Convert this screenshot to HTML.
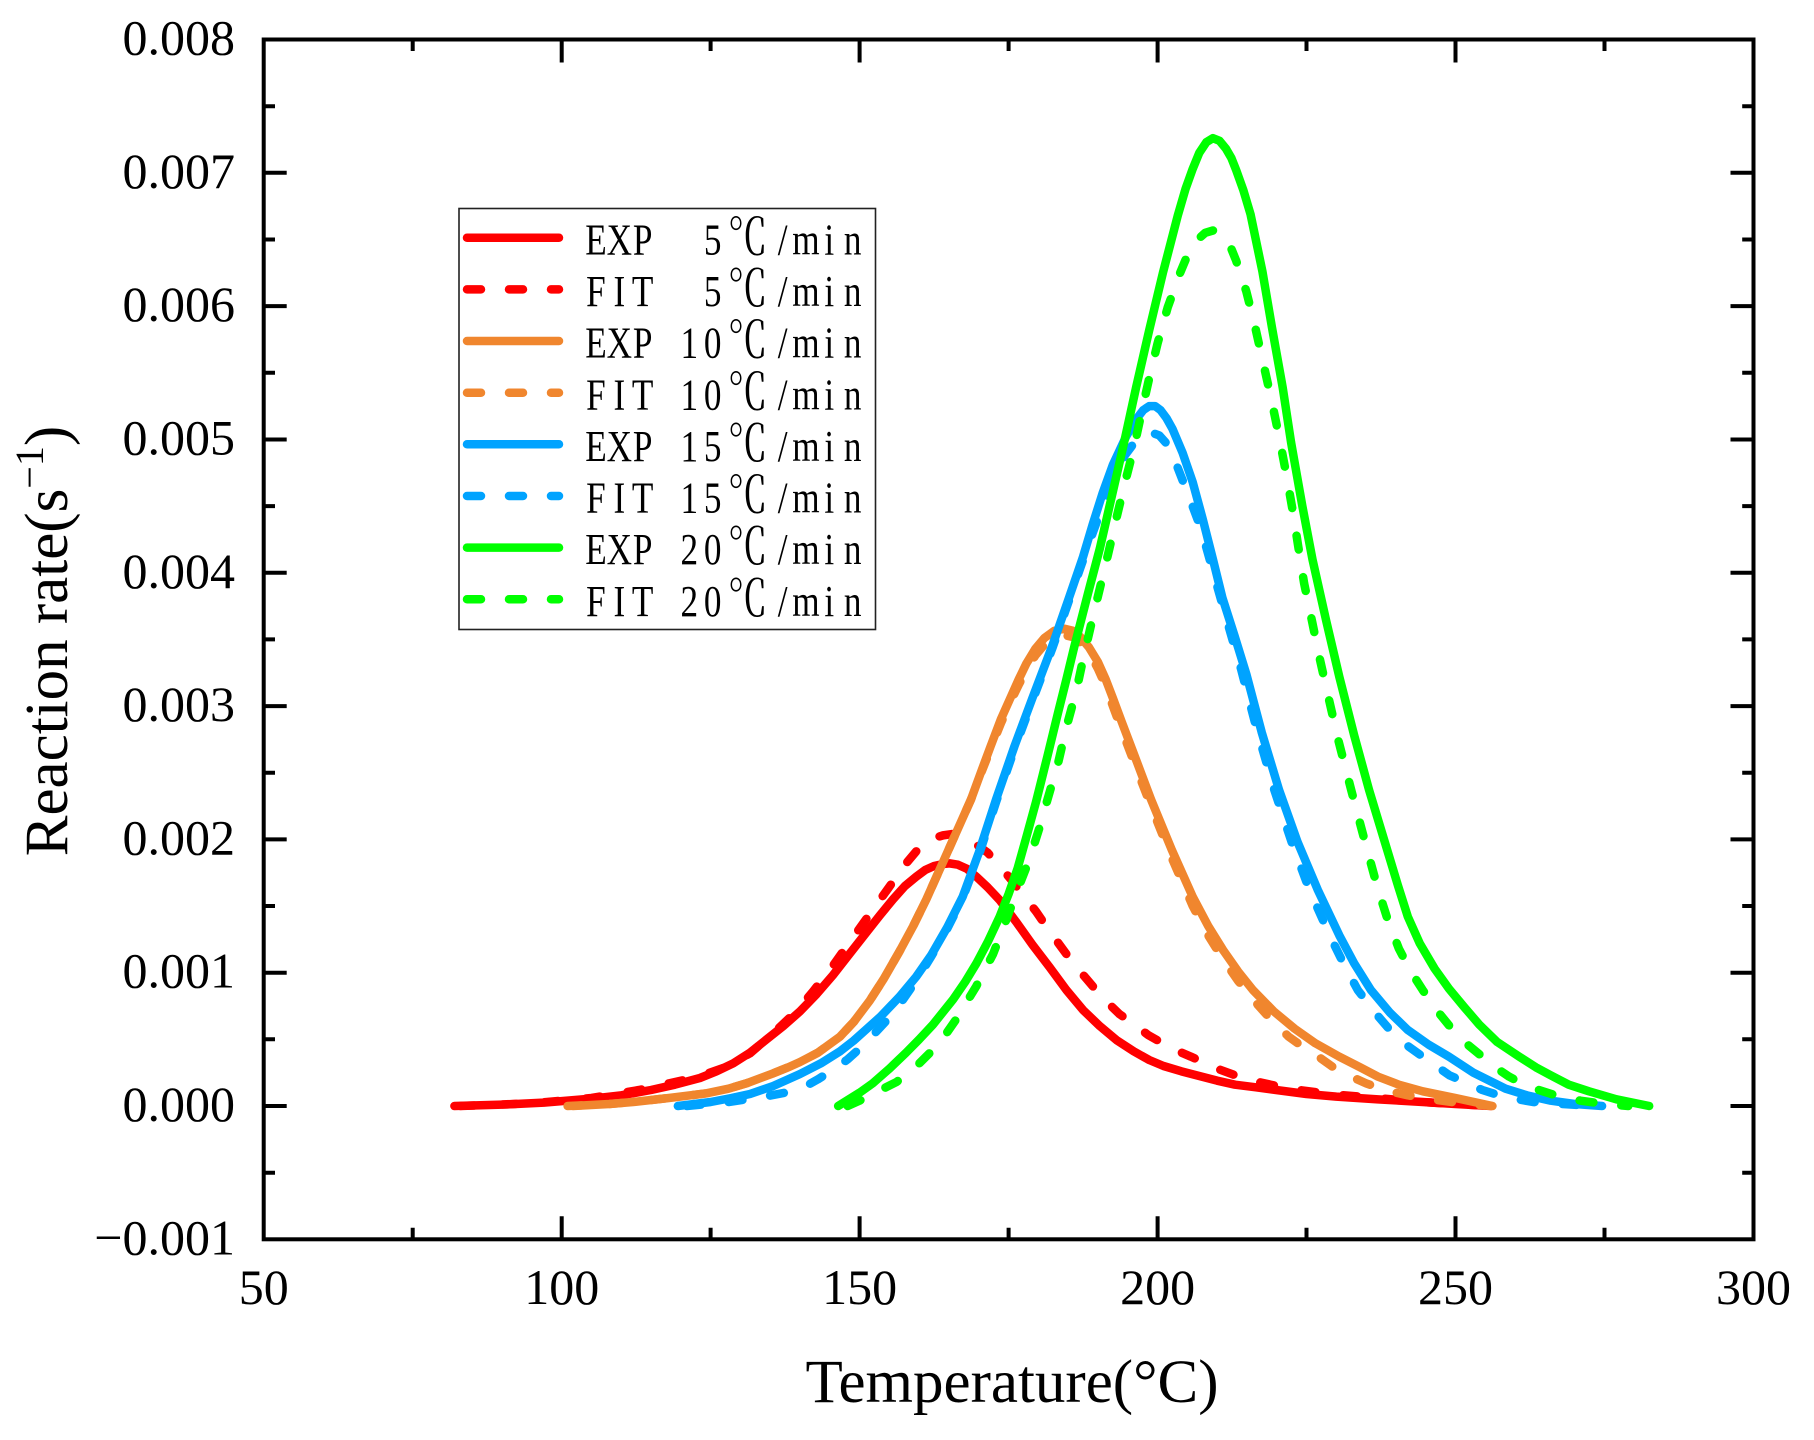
<!DOCTYPE html>
<html>
<head>
<meta charset="utf-8">
<style>
  html,body{margin:0;padding:0;background:#fff;}
  svg{display:block;}
  .tick{font-family:"Liberation Serif","Times New Roman",serif;font-size:50px;fill:#000;}
  .title{font-family:"Liberation Serif","Times New Roman",serif;font-size:61px;fill:#000;}
  .leg{font-family:"Liberation Serif","Noto Serif CJK SC","Noto Sans CJK SC",serif;font-size:44px;fill:#000;}
  .c{fill:none;stroke-width:8.5;stroke-linecap:round;stroke-linejoin:round;}
  .d{stroke-dasharray:14 28;}
</style>
</head>
<body>
<svg width="1814" height="1440" viewBox="0 0 1814 1440" xmlns="http://www.w3.org/2000/svg">
<rect x="0" y="0" width="1814" height="1440" fill="#fff"/>

<g transform="translate(-34.25,1106) scale(5.959,-133.31)">
  <!-- Red EXP -->
  <polyline class="c" vector-effect="non-scaling-stroke" stroke="#FF0000" points="82,0 90,0.01 97,0.025 105,0.055 110,0.08 115,0.12 119,0.16 123.2,0.21 126,0.26 128.8,0.32 131.6,0.40 134.4,0.50 137.2,0.60 140,0.71 142.8,0.84 145.5,0.98 148.3,1.14 151.1,1.30 153.4,1.43 155.6,1.55 157.6,1.65 159.5,1.72 161,1.77 162.5,1.80 164,1.815 165.1,1.82 166.5,1.81 168,1.78 169.6,1.72 171.5,1.64 173.5,1.545 176.3,1.38 179,1.21 181.9,1.04 184.7,0.87 187.5,0.72 190.3,0.60 193.1,0.495 196,0.41 198.6,0.345 201,0.30 204,0.26 207,0.225 210,0.19 213,0.16 216.5,0.14 219.9,0.12 225,0.09 230,0.07 237,0.05 244.5,0.03 250,0.015 256,0"/>
  <!-- Red FIT -->
  <polyline class="c d" vector-effect="non-scaling-stroke" stroke="#FF0000" points="83,0 95,0.02 105,0.06 113,0.12 118,0.17 123,0.22 127.7,0.295 131.6,0.395 135.5,0.545 139.4,0.71 142.2,0.86 145,1.02 147.8,1.195 150.6,1.37 153.4,1.545 156.2,1.72 158,1.83 159.5,1.91 161,1.97 162.5,2.01 164,2.03 165.5,2.04 167,2.03 169,1.98 171.5,1.90 173.5,1.80 175.2,1.71 176.8,1.62 179.6,1.46 181.9,1.31 184.7,1.14 187,1.01 189.1,0.90 191.5,0.78 193.6,0.69 196.4,0.60 198.5,0.53 200.9,0.47 203,0.42 205.6,0.37 210,0.28 214.9,0.20 222,0.13 230,0.085 236.7,0.06 246,0.025 256,0"/>
  <!-- Orange EXP -->
  <polyline class="c" vector-effect="non-scaling-stroke" stroke="#F0862E" points="101.9,0 108,0.015 112,0.03 118,0.06 124.3,0.095 128,0.13 131,0.17 135.5,0.245 138,0.29 140,0.33 143,0.40 146.7,0.52 149,0.63 151.7,0.79 154,0.95 156.7,1.16 159,1.35 161.2,1.55 163,1.73 165,1.93 167,2.13 168.7,2.30 170.5,2.52 172,2.70 173.7,2.90 175.2,3.05 176.7,3.20 178,3.32 179.5,3.43 181,3.51 182.7,3.565 184.4,3.58 185.8,3.565 187,3.52 188.5,3.44 190,3.33 191.3,3.20 192.5,3.06 194,2.88 195.7,2.68 198.9,2.30 202.4,1.92 205.9,1.57 208.5,1.35 211,1.17 213.5,1.01 216,0.87 219.5,0.71 223,0.58 226.5,0.47 230.5,0.37 234,0.29 237,0.22 240.5,0.16 244.5,0.11 250,0.06 256.2,0"/>
  <!-- Orange FIT -->
  <polyline class="c d" vector-effect="non-scaling-stroke" stroke="#F0862E" points="101,0 108,0.015 112,0.03 118,0.06 124.3,0.095 128,0.13 131,0.17 135.5,0.245 138,0.29 140,0.33 143,0.40 146.7,0.52 149,0.63 151.7,0.79 154,0.95 156.7,1.16 159,1.35 161.2,1.55 163,1.73 165,1.93 167,2.13 168.7,2.30 170.5,2.51 172,2.68 173.7,2.87 175.2,3.02 176.7,3.16 178,3.27 179.5,3.38 181,3.46 182.8,3.515 184.6,3.53 186,3.515 187.5,3.46 188.8,3.38 190,3.28 191.3,3.15 192.5,3.0 194,2.82 195.7,2.62 198.9,2.25 202.4,1.86 205.9,1.50 208.5,1.28 211,1.10 213.5,0.94 216,0.80 219,0.65 222,0.52 224.5,0.44 227,0.37 229.5,0.29 232,0.23 235,0.17 238,0.12 242,0.08 246,0.05 251,0.02 256,0"/>
  <!-- Blue EXP -->
  <polyline class="c" vector-effect="non-scaling-stroke" stroke="#00A3FF" points="119.5,0 125,0.03 128.5,0.06 131.6,0.09 135.5,0.15 140,0.24 143.5,0.32 146.7,0.41 149,0.49 151,0.57 153.5,0.67 156.7,0.82 159.5,0.97 162,1.13 164.7,1.34 167.3,1.57 170,1.90 172.9,2.30 176,2.70 179,3.06 182.4,3.46 185.2,3.82 187.5,4.12 189.1,4.36 190.8,4.60 192.5,4.81 194.7,5.02 196.4,5.15 197.6,5.22 198.6,5.25 199.6,5.25 200.5,5.22 201.5,5.16 202.5,5.08 204.2,4.90 205.9,4.68 207.6,4.40 209.3,4.10 210.9,3.81 212.9,3.53 214.9,3.24 217.5,2.80 220.4,2.37 223.5,1.98 226.9,1.62 230.5,1.28 233,1.07 235.8,0.87 239,0.70 242,0.57 245.5,0.46 248.9,0.37 253,0.25 258.4,0.13 262,0.08 266,0.04 270,0.015 274.6,0"/>
  <!-- Blue FIT -->
  <polyline class="c d" vector-effect="non-scaling-stroke" stroke="#00A3FF" points="121,0 128,0.03 134,0.07 138.7,0.11 141,0.15 143,0.2 145.5,0.27 148,0.35 150,0.43 152,0.52 154.5,0.64 157,0.78 159.5,0.94 162,1.12 164.7,1.33 167.3,1.56 170,1.88 172.9,2.28 176,2.68 179,3.04 182.4,3.44 185.2,3.80 188,4.16 190.5,4.47 192.5,4.70 194.5,4.88 196.5,5.00 198,5.04 199.1,5.05 200.3,5.03 201.5,4.97 203.1,4.82 205.2,4.58 207.3,4.33 209,4.06 210.7,3.79 212.3,3.54 214,3.28 216.5,2.85 219.6,2.37 222.5,1.98 225.5,1.62 229,1.27 231.3,1.06 233.6,0.87 236.5,0.70 239,0.57 241.7,0.46 244.5,0.37 249,0.23 254.5,0.12 258,0.07 263,0.03 273,0"/>
  <!-- Green EXP -->
  <polyline class="c" vector-effect="non-scaling-stroke" stroke="#00FF00" points="146.4,0 150,0.10 152.2,0.17 155,0.28 157.8,0.40 160,0.50 162.3,0.61 165.7,0.80 167.7,0.93 169.6,1.07 171.5,1.23 173.5,1.42 175,1.59 176.5,1.78 178,2.02 179.6,2.28 181.5,2.62 183.3,2.95 184.7,3.20 186,3.44 188.3,3.84 190.3,4.18 192.2,4.55 194.3,4.96 196.4,5.39 198.6,5.82 200.9,6.25 203.4,6.68 204.7,6.88 205.9,7.03 207,7.15 208.2,7.23 209.3,7.26 210.4,7.24 211.5,7.18 212.4,7.11 213.2,7.02 214.4,6.87 215.6,6.69 217.6,6.26 219.2,5.84 221,5.39 222.4,4.98 224.3,4.50 226,4.10 228.3,3.64 230.5,3.22 233,2.78 235.5,2.37 238,2.0 240.3,1.66 242,1.42 244,1.22 246.5,1.03 248.9,0.88 251.5,0.74 254,0.61 257,0.48 260.7,0.37 263.5,0.29 266,0.23 269,0.16 272.4,0.11 277,0.05 282.5,0"/>
  <!-- Green FIT -->
  <polyline class="c d" vector-effect="non-scaling-stroke" stroke="#00FF00" points="148,0 150,0.04 152.2,0.09 156.2,0.18 159.8,0.31 163.4,0.47 166.2,0.65 169.6,0.90 172.4,1.14 174.3,1.36 176.4,1.61 178.5,1.85 180.2,2.09 181.6,2.31 183.3,2.57 184.7,2.84 186.4,3.12 187.5,3.35 188.9,3.62 190.3,3.88 191.7,4.14 193.1,4.41 194.5,4.67 196.1,4.95 197.4,5.22 198.6,5.46 200,5.72 201.7,5.99 203.7,6.24 205,6.38 206.5,6.49 208,6.55 209.5,6.57 211,6.53 212.2,6.45 213.2,6.34 214.9,6.11 216.3,5.86 217.6,5.60 219.1,5.30 220.4,5.02 221.6,4.74 222.7,4.46 223.6,4.20 224.6,3.92 226,3.62 227.1,3.38 228.3,3.14 230.3,2.75 232.5,2.37 234.7,2.0 236.9,1.64 238.6,1.40 240.5,1.18 242.5,1.01 244.5,0.87 247,0.71 249,0.60 251.5,0.48 254.5,0.37 257,0.28 259,0.22 261.5,0.16 264,0.12 267.5,0.07 271,0.04 275,0.015 279,0"/>
</g>

<rect x="263.7" y="39.5" width="1489.8" height="1199.8" fill="none" stroke="#000" stroke-width="4"/>

<path stroke="#000" stroke-width="4" fill="none" d="
M263.7 172.8 H286.7 M263.7 306.1 H286.7 M263.7 439.5 H286.7 M263.7 572.8 H286.7 M263.7 706.1 H286.7 M263.7 839.4 H286.7 M263.7 972.7 H286.7 M263.7 1106 H286.7
M263.7 106.2 H275 M263.7 239.5 H275 M263.7 372.8 H275 M263.7 506.1 H275 M263.7 639.4 H275 M263.7 772.7 H275 M263.7 906 H275 M263.7 1039.3 H275 M263.7 1172.7 H275
M1753.5 172.8 H1730.5 M1753.5 306.1 H1730.5 M1753.5 439.5 H1730.5 M1753.5 572.8 H1730.5 M1753.5 706.1 H1730.5 M1753.5 839.4 H1730.5 M1753.5 972.7 H1730.5 M1753.5 1106 H1730.5
M1753.5 106.2 H1742.2 M1753.5 239.5 H1742.2 M1753.5 372.8 H1742.2 M1753.5 506.1 H1742.2 M1753.5 639.4 H1742.2 M1753.5 772.7 H1742.2 M1753.5 906 H1742.2 M1753.5 1039.3 H1742.2 M1753.5 1172.7 H1742.2
M561.7 1239.3 V1216.3 M859.6 1239.3 V1216.3 M1157.6 1239.3 V1216.3 M1455.5 1239.3 V1216.3
M412.7 1239.3 V1227.8 M710.6 1239.3 V1227.8 M1008.6 1239.3 V1227.8 M1306.5 1239.3 V1227.8 M1604.5 1239.3 V1227.8
M561.7 39.5 V62.5 M859.6 39.5 V62.5 M1157.6 39.5 V62.5 M1455.5 39.5 V62.5
M412.7 39.5 V51 M710.6 39.5 V51 M1008.6 39.5 V51 M1306.5 39.5 V51 M1604.5 39.5 V51
"/>

<g class="tick" text-anchor="end">
  <text x="235" y="54.5">0.008</text>
  <text x="235" y="187.8">0.007</text>
  <text x="235" y="321.1">0.006</text>
  <text x="235" y="454.5">0.005</text>
  <text x="235" y="587.8">0.004</text>
  <text x="235" y="721.1">0.003</text>
  <text x="235" y="854.4">0.002</text>
  <text x="235" y="987.7">0.001</text>
  <text x="235" y="1121">0.000</text>
  <text x="235" y="1254.3">−0.001</text>
</g>

<g class="tick" text-anchor="middle">
  <text x="263.7" y="1304">50</text>
  <text x="561.7" y="1304">100</text>
  <text x="859.6" y="1304">150</text>
  <text x="1157.6" y="1304">200</text>
  <text x="1455.5" y="1304">250</text>
  <text x="1753.5" y="1304">300</text>
</g>

<text class="title" x="1012" y="1402" text-anchor="middle">Temperature(°C)</text>
<text class="title" transform="translate(67,641) rotate(-90)" text-anchor="middle">Reaction rate(s<tspan font-size="40" dy="-24">−1</tspan><tspan dy="24">)</tspan></text>

<rect x="459" y="208.5" width="416.5" height="421" fill="#fff" stroke="#222" stroke-width="1.6"/>
<g stroke-width="8.5" stroke-linecap="round" fill="none">
  <line x1="467" y1="237.7" x2="559" y2="237.7" stroke="#FF0000"/>
  <line x1="467" y1="289.35" x2="559" y2="289.35" stroke="#FF0000" stroke-dasharray="14 28"/>
  <line x1="467" y1="341" x2="559" y2="341" stroke="#F0862E"/>
  <line x1="467" y1="392.7" x2="559" y2="392.7" stroke="#F0862E" stroke-dasharray="14 28"/>
  <line x1="467" y1="444.3" x2="559" y2="444.3" stroke="#00A3FF"/>
  <line x1="467" y1="496" x2="559" y2="496" stroke="#00A3FF" stroke-dasharray="14 28"/>
  <line x1="467" y1="547.6" x2="559" y2="547.6" stroke="#00FF00"/>
  <line x1="467" y1="599.3" x2="559" y2="599.3" stroke="#00FF00" stroke-dasharray="14 28"/>
</g>
<g class="leg" text-anchor="middle">
  <g transform="translate(584.3,254.3) scale(0.8,1)"><text xml:space="preserve" style="white-space:pre" x="14.58 43.75 72.92 102.08 131.25 160.42 204.17 247.92 277.08 306.25 335.42" y="0">EXP  5<tspan font-size="50">℃</tspan>/min</text></g>
  <g transform="translate(584.3,306) scale(0.8,1)"><text xml:space="preserve" style="white-space:pre" x="14.58 43.75 72.92 102.08 131.25 160.42 204.17 247.92 277.08 306.25 335.42" y="0">FIT  5<tspan font-size="50">℃</tspan>/min</text></g>
  <g transform="translate(584.3,357.6) scale(0.8,1)"><text xml:space="preserve" style="white-space:pre" x="14.58 43.75 72.92 102.08 131.25 160.42 204.17 247.92 277.08 306.25 335.42" y="0">EXP 10<tspan font-size="50">℃</tspan>/min</text></g>
  <g transform="translate(584.3,409.3) scale(0.8,1)"><text xml:space="preserve" style="white-space:pre" x="14.58 43.75 72.92 102.08 131.25 160.42 204.17 247.92 277.08 306.25 335.42" y="0">FIT 10<tspan font-size="50">℃</tspan>/min</text></g>
  <g transform="translate(584.3,460.9) scale(0.8,1)"><text xml:space="preserve" style="white-space:pre" x="14.58 43.75 72.92 102.08 131.25 160.42 204.17 247.92 277.08 306.25 335.42" y="0">EXP 15<tspan font-size="50">℃</tspan>/min</text></g>
  <g transform="translate(584.3,512.6) scale(0.8,1)"><text xml:space="preserve" style="white-space:pre" x="14.58 43.75 72.92 102.08 131.25 160.42 204.17 247.92 277.08 306.25 335.42" y="0">FIT 15<tspan font-size="50">℃</tspan>/min</text></g>
  <g transform="translate(584.3,564.2) scale(0.8,1)"><text xml:space="preserve" style="white-space:pre" x="14.58 43.75 72.92 102.08 131.25 160.42 204.17 247.92 277.08 306.25 335.42" y="0">EXP 20<tspan font-size="50">℃</tspan>/min</text></g>
  <g transform="translate(584.3,615.9) scale(0.8,1)"><text xml:space="preserve" style="white-space:pre" x="14.58 43.75 72.92 102.08 131.25 160.42 204.17 247.92 277.08 306.25 335.42" y="0">FIT 20<tspan font-size="50">℃</tspan>/min</text></g>
</g>
</svg>
</body>
</html>
